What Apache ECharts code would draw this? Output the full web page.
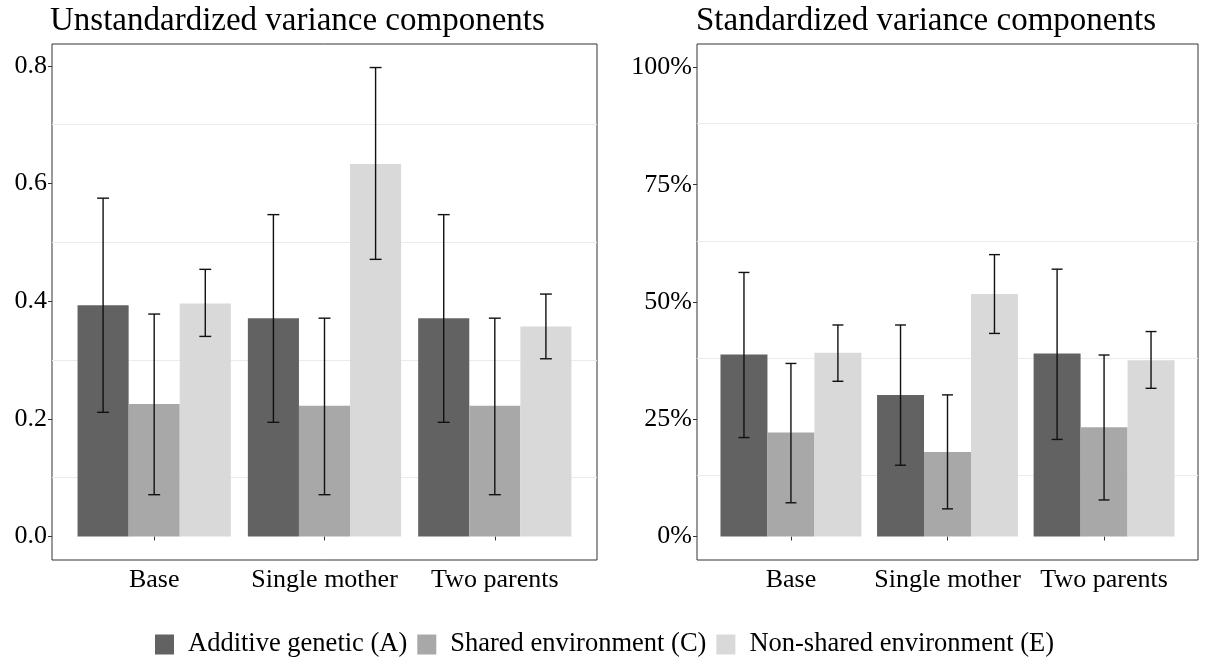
<!DOCTYPE html>
<html><head><meta charset="utf-8">
<script src="https://cdn.jsdelivr.net/npm/echarts@6/dist/echarts.min.js"></script>
<style>html,body{margin:0;padding:0;background:#fff}#c{width:1211px;height:659px}</style>
</head><body><div id="c"></div>
<script>
const categories = ['Base', 'Single mother', 'Two parents'];
const components = ['Additive genetic (A)', 'Shared environment (C)', 'Non-shared environment (E)'];
const colors = ['#626262', '#a8a8a8', '#d9d9d9'];

// Unstandardized: value, lower, upper per category
const unstdA = [0.393, 0.371, 0.371];
const unstdA_lo = [0.211, 0.194, 0.194];
const unstdA_hi = [0.575, 0.547, 0.547];
const unstdC = [0.225, 0.222, 0.222];
const unstdC_lo = [0.071, 0.071, 0.071];
const unstdC_hi = [0.378, 0.371, 0.371];
const unstdE = [0.396, 0.633, 0.357];
const unstdE_lo = [0.340, 0.471, 0.302];
const unstdE_hi = [0.454, 0.797, 0.412];

// Standardized (proportions)
const stdA = [0.388, 0.302, 0.390];
const stdA_lo = [0.211, 0.152, 0.207];
const stdA_hi = [0.563, 0.451, 0.570];
const stdC = [0.222, 0.180, 0.233];
const stdC_lo = [0.072, 0.059, 0.078];
const stdC_hi = [0.369, 0.302, 0.387];
const stdE = [0.392, 0.517, 0.376];
const stdE_lo = [0.331, 0.433, 0.316];
const stdE_hi = [0.451, 0.601, 0.437];

const leftTicks = [0, 0.2, 0.4, 0.6, 0.8];
const leftMinor = [0.1, 0.3, 0.5, 0.7];
const rightTicks = [0, 0.25, 0.5, 0.75, 1];
const rightMinor = [0.125, 0.375, 0.625, 0.875];

const FONT = 'Liberation Serif';
const barW = 0.3, groupW = 0.9, capW = 0.07;

function rows(v, lo, hi) {
  return v.map((val, i) => [i + 1, val, lo[i], hi[i]]);
}

function makeRender(k) {
  return function (params, api) {
    const x = api.value(0), v = api.value(1), lo = api.value(2), hi = api.value(3);
    const left = x - groupW / 2 + k * barW;
    const p0 = api.coord([left, v]);
    const p1 = api.coord([left + barW, 0]);
    const cx = left + barW / 2;
    const top = api.coord([cx, hi]);
    const bot = api.coord([cx, lo]);
    const cl = api.coord([cx - capW / 2, hi])[0];
    const cr = api.coord([cx + capW / 2, hi])[0];
    const es = { stroke: '#111', lineWidth: 1.4 };
    return {
      type: 'group',
      children: [
        { type: 'rect', shape: { x: p0[0], y: p0[1], width: p1[0] - p0[0], height: p1[1] - p0[1] }, style: { fill: colors[k] } },
        { type: 'line', shape: { x1: top[0], y1: top[1], x2: bot[0], y2: bot[1] }, style: es, z2: 10 },
        { type: 'line', shape: { x1: cl, y1: top[1], x2: cr, y2: top[1] }, style: es, z2: 10 },
        { type: 'line', shape: { x1: cl, y1: bot[1], x2: cr, y2: bot[1] }, style: es, z2: 10 }
      ]
    };
  };
}

const leftData = [rows(unstdA, unstdA_lo, unstdA_hi), rows(unstdC, unstdC_lo, unstdC_hi), rows(unstdE, unstdE_lo, unstdE_hi)];
const rightData = [rows(stdA, stdA_lo, stdA_hi), rows(stdC, stdC_lo, stdC_hi), rows(stdE, stdE_lo, stdE_hi)];

const series = [];
[leftData, rightData].forEach((panel, gi) => {
  // minor grid lines, drawn beneath the bars
  series.push({
    type: 'line', name: 'grid' + gi, xAxisIndex: gi, yAxisIndex: gi, data: [], z: 1,
    silent: true, animation: false,
    markLine: {
      silent: true, symbol: 'none', animation: false,
      label: { show: false },
      lineStyle: { color: '#ebebeb', width: 1, type: 'solid' },
      emphasis: { disabled: true },
      data: (gi === 0 ? leftMinor : rightMinor).map(v => ({ yAxis: v }))
    }
  });
  panel.forEach((d, k) => {
    series.push({
      type: 'custom',
      name: components[k],
      xAxisIndex: gi, yAxisIndex: gi,
      renderItem: makeRender(k),
      data: d,
      z: 5,
      itemStyle: { color: colors[k] },
      encode: { x: 0, y: [1, 2, 3] },
      silent: true, animation: false
    });
  });
});

function xAxis(gi) {
  return {
    type: 'value', gridIndex: gi, min: 0.4, max: 3.6,
    splitLine: { show: false },
    axisLine: { show: false },
    axisTick: { show: true, customValues: [1, 2, 3], length: 4, lineStyle: { color: '#333' } },
    axisLabel: { customValues: [1, 2, 3], formatter: v => categories[Math.round(v) - 1], color: '#000', fontFamily: FONT, fontSize: 26, margin: 7 }
  };
}
function yAxis(gi) {
  const ticks = gi === 0 ? leftTicks : rightTicks;
  return {
    type: 'value', gridIndex: gi,
    min: gi === 0 ? -0.04 : -0.05, max: gi === 0 ? 0.837 : 1.05,
    splitLine: { show: false },
    axisLine: { show: false },
    axisTick: { show: true, customValues: ticks, length: 4, lineStyle: { color: '#333' } },
    axisLabel: {
      customValues: ticks, color: '#000', fontFamily: FONT, fontSize: 26, margin: 5,
      formatter: v => gi === 0 ? v.toFixed(1) : Math.round(v * 100) + '%'
    }
  };
}

const chart = echarts.init(document.getElementById('c'), null, { renderer: 'canvas' });
chart.setOption({
  animation: false,
  backgroundColor: '#fff',
  title: [
    { text: 'Unstandardized variance components', left: 45, top: 0, textStyle: { fontFamily: FONT, fontSize: 33, fontWeight: 'normal', color: '#000' } },
    { text: 'Standardized variance components', left: 691, top: 0, textStyle: { fontFamily: FONT, fontSize: 33, fontWeight: 'normal', color: '#000' } }
  ],
  grid: [
    { left: 52, top: 44, width: 545, height: 516, show: true, borderColor: '#333', borderWidth: 1, backgroundColor: 'transparent' },
    { left: 697, top: 44, width: 501, height: 516, show: true, borderColor: '#333', borderWidth: 1, backgroundColor: 'transparent' }
  ],
  xAxis: [xAxis(0), xAxis(1)],
  yAxis: [yAxis(0), yAxis(1)],
  legend: {
    data: components, top: 626, left: 150,
    icon: 'rect', itemWidth: 19, itemHeight: 20, itemGap: 10,
    textStyle: { fontFamily: FONT, fontSize: 26.5, color: '#000', padding: [0, 0, 0, 9] },
    selectedMode: false
  },
  series: series
});
</script>
</body></html>
